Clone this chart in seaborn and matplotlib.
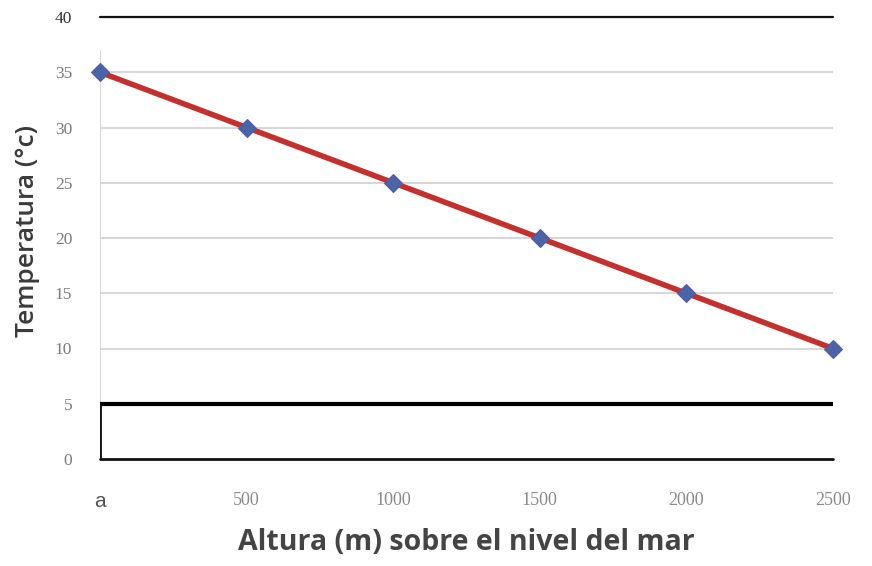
import matplotlib
matplotlib.use("Agg")
import matplotlib.pyplot as plt
import seaborn as sns
import pandas as pd

# Data
altura = [0, 500, 1000, 1500, 2000, 2500]
temperatura = [35, 30, 25, 20, 15, 10]
x_tick_labels = ["a", "500", "1000", "1500", "2000", "2500"]
y_ticks = [0, 5, 10, 15, 20, 25, 30, 35, 40]

df = pd.DataFrame({"altura": altura, "temperatura": temperatura})

sns.set_theme(style="white")
plt.rcParams["font.family"] = ["DejaVu Sans"]

fig = plt.figure(figsize=(8.72, 5.66), dpi=100)
ax = fig.add_axes([100/872, 1-459/566, (833-100)/872, (459-17)/566])

ax.set_xlim(0, 2500)
ax.set_ylim(0, 40)

# grid lines
for y in y_ticks:
    if y in (10, 15, 20, 25, 30, 35):
        ax.axhline(y, color="#d0d0d0", lw=1.2, zorder=1)
ax.axhline(40, color="#111111", lw=1.6, zorder=2, clip_on=False)
ax.axhline(5, color="#000000", lw=3.0, zorder=2)
ax.axhline(0, color="#111111", lw=2.0, zorder=2, clip_on=False)
ax.axvline(0, ymin=5/40, ymax=36.9/40, color="#d0d0d0", lw=1.2, zorder=1)
ax.axvline(0, ymin=0, ymax=5/40, color="#111111", lw=2.0, zorder=2)

sns.lineplot(data=df, x="altura", y="temperatura", ax=ax, color="#c3302e",
             lw=4.0, marker="D", markersize=9, markerfacecolor="#4a64a8",
             markeredgecolor="#5a5aa0", markeredgewidth=0.8, zorder=5, clip_on=False)

for s in ax.spines.values():
    s.set_visible(False)

ax.set_xticks(altura)
ax.set_xticklabels(x_tick_labels)
ax.set_yticks(y_ticks)
ax.set_yticklabels([str(v) for v in y_ticks])
ax.tick_params(axis="both", length=0)
ax.tick_params(axis="x", pad=24)
ax.tick_params(axis="y", pad=20)
for lab in ax.get_xticklabels():
    lab.set_fontfamily("Liberation Serif")
    lab.set_fontsize(13)
    lab.set_color("#8a8a8a")
ax.get_xticklabels()[0].set_fontfamily("Liberation Sans")
ax.get_xticklabels()[0].set_fontsize(15)
ax.get_xticklabels()[0].set_color("#555555")
for lab in ax.get_yticklabels():
    lab.set_fontfamily("Liberation Serif")
    lab.set_fontsize(12.5)
    lab.set_color("#7a7a7a")
ax.get_yticklabels()[-1].set_color("#333333")

ax.set_xlabel("Altura (m) sobre el nivel del mar", fontfamily="Open Sans",
              fontweight="bold", fontsize=20.5, color="#444444", labelpad=12)
ax.set_ylabel("Temperatura (°c)", fontfamily="Open Sans", fontweight="semibold",
              fontsize=19, color="#3a3a3a")
ax.yaxis.set_label_coords(-0.082, 0.515)

fig.savefig("out.png", dpi=100)
